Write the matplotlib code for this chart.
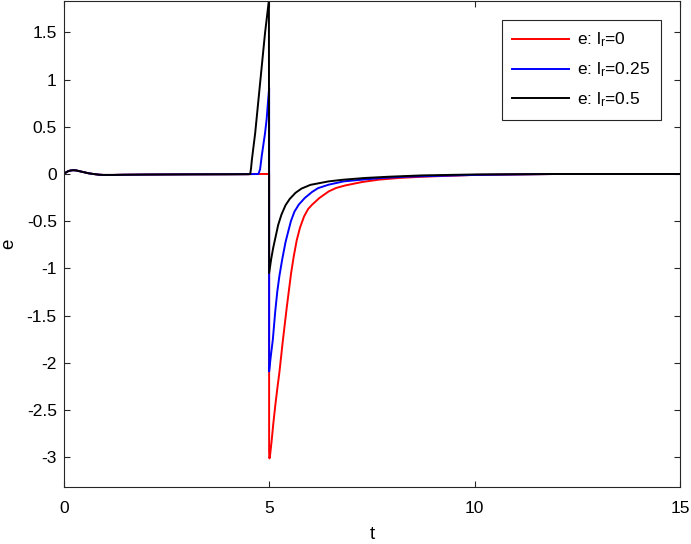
import numpy as np
import matplotlib
matplotlib.use('Agg')
import matplotlib.pyplot as plt

plt.rcParams['font.family'] = ['Liberation Sans', 'DejaVu Sans']
plt.rcParams['mathtext.default'] = 'regular'
plt.rcParams['axes.unicode_minus'] = False

# shared start (all three runs overlap before the step)
t_start = [0, 0.05, 0.11, 0.17, 0.23, 0.3, 0.38, 0.48, 0.6, 0.72, 0.85, 0.96, 1.2, 1.45, 2.0, 3.0, 4.0, 4.5]
e_start = [0, 0.015, 0.03, 0.037, 0.04, 0.038, 0.03, 0.02, 0.008, 0.0, -0.007, -0.01, -0.01, -0.008,
           -0.006, -0.004, -0.003, -0.002]

# lr = 0
t_red = [4.54, 5.0, 5.0, 5.008, 5.025, 5.06, 5.10, 5.15, 5.20, 5.25, 5.33, 5.43, 5.535, 5.60, 5.673,
         5.75, 5.85, 5.95, 6.046, 6.224, 6.452, 6.63, 6.857, 7.263, 7.67, 8.157, 8.724, 10, 12, 15]
e_red = [0, 0, -2.95, -3.01, -2.97, -2.83, -2.65, -2.45, -2.27, -2.10, -1.78, -1.41, -1.05, -0.87,
         -0.70, -0.57, -0.45, -0.37, -0.325, -0.254, -0.184, -0.148, -0.121, -0.085, -0.06, -0.042,
         -0.029, -0.01, 0, 0]

# lr = 0.25
t_blue = [4.74, 4.78, 4.82, 4.86, 4.90, 4.94, 4.97, 5.0, 5.0, 5.04, 5.09, 5.15, 5.20, 5.25, 5.32,
          5.40, 5.47, 5.53, 5.615, 5.72, 5.868, 6.046, 6.19, 6.452, 6.818, 7.263, 7.75, 8.32,
          10, 12, 15]
e_blue = [0, 0.05, 0.19, 0.31, 0.43, 0.58, 0.75, 0.91, -2.09, -1.93, -1.755, -1.45, -1.24, -1.08,
          -0.90, -0.72, -0.60, -0.50, -0.40, -0.325, -0.254, -0.19, -0.15, -0.113, -0.078,
          -0.06, -0.042, -0.029, -0.01, 0, 0]

# lr = 0.5
t_black = [4.54, 4.56, 4.58, 4.62, 4.66, 4.78, 4.90, 4.995, 5.0, 5.05, 5.10, 5.16, 5.22, 5.30,
           5.40, 5.50, 5.64, 5.786, 6.005, 6.452, 6.818, 7.344, 7.913, 8.72, 10, 12, 15]
e_black = [0, 0.06, 0.15, 0.29, 0.43, 0.96, 1.49, 1.84, -1.05, -0.90, -0.78, -0.66, -0.54, -0.43,
           -0.33, -0.265, -0.20, -0.155, -0.115, -0.078, -0.06, -0.042, -0.029, -0.015, -0.005, 0, 0]

labels = ['e: l$_r$=0', 'e: l$_r$=0.25', 'e: l$_r$=0.5']
colors = ['#ff0000', '#0000ff', '#000000']

fig = plt.figure(figsize=(6.91, 5.44), dpi=100)
ax = fig.add_axes([0.0922, 0.1053, 0.8918, 0.8927])

for tt, ee, lab, col in zip([t_red, t_blue, t_black], [e_red, e_blue, e_black], labels, colors):
    ax.plot(t_start + tt, e_start + ee, color=col, lw=1.4, label=lab)

ax.set_xlim(0, 15)
ax.set_ylim(-3.31, 1.83)
ax.set_xticks([0, 5, 10, 15])
ax.set_yticks(np.arange(-3, 1.51, 0.5))
ax.set_yticklabels(['-3', '-2.5', '-2', '-1.5', '-1', '-0.5', '0', '0.5', '1', '1.5'])

for s in ax.spines.values():
    s.set_color('#262626')
    s.set_linewidth(0.8)
ax.tick_params(direction='in', length=4.5, width=0.8, color='#262626',
               top=True, right=True, labelsize=12.5, labelcolor='black')
ax.tick_params(axis='x', pad=10)
ax.tick_params(axis='y', pad=5)

ax.set_xlabel('t', fontsize=13.5)
ax.set_ylabel('e', fontsize=13.5)
ax.xaxis.set_label_coords(0.5, -0.08)
ax.yaxis.set_label_coords(-0.076, 0.5)

leg = ax.legend(loc='upper right', fontsize=12.5, handlelength=3.3, handletextpad=0.45,
                labelspacing=0.65, borderaxespad=1.1, fancybox=False, framealpha=1,
                borderpad=0.6)
leg.get_frame().set_edgecolor('#262626')
leg.get_frame().set_linewidth(0.8)

fig.savefig('out.png', dpi=100)
